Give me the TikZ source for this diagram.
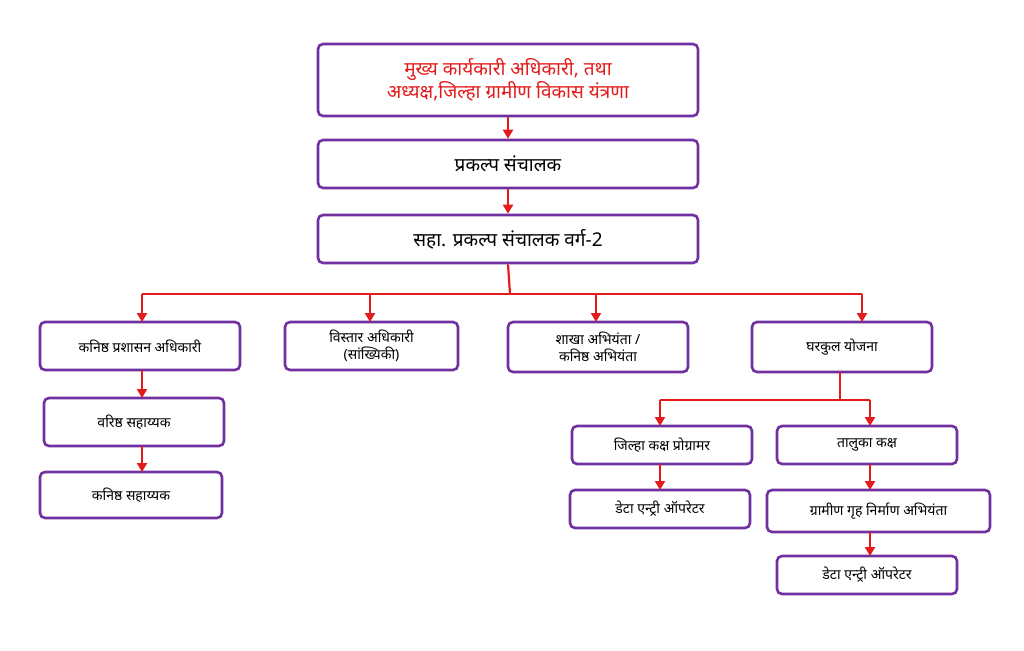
\documentclass[tikz,border=0pt]{standalone}
\usepackage{fontspec}
\newfontfamily\dev[Script=Devanagari]{Noto Sans}
\usetikzlibrary{arrows.meta}
\definecolor{pbord}{HTML}{7030A0}
\definecolor{rline}{HTML}{E31B1B}
\tikzset{
  box/.style={draw=pbord,line width=2.6pt,rounded corners=5pt,fill=white,align=center,font=\dev\bfseries\fontsize{14}{17}\selectfont,inner sep=0pt},
  big/.style={font=\dev\bfseries\fontsize{19}{23}\selectfont},
  con/.style={draw=rline,line width=2.2pt,-{Triangle[length=9pt,width=10pt]}},
  lin/.style={draw=rline,line width=2.2pt}
}
\newcommand{\bx}[6]{\node[box,#6,minimum width=#3-#1,minimum height=#4-#2] (#5) at ({(#1+#3)/2},{(#2+#4)/2})}
\begin{document}
\begin{tikzpicture}[x=1pt,y=-1pt]
\useasboundingbox (0,0) rectangle (1024,650);
\bx{318}{44}{698}{116}{a}{big}{\textcolor{rline}{मुख्य कार्यकारी अधिकारी, तथा}\\\textcolor{rline}{अध्यक्ष,जिल्हा ग्रामीण विकास यंत्रणा}};
\bx{318}{140}{698}{188}{b}{big}{प्रकल्प संचालक};
\bx{318}{215}{698}{263}{c}{big}{सहा. प्रकल्प संचालक वर्ग-2};
\bx{40}{322}{240}{370}{d}{}{कनिष्ठ प्रशासन अधिकारी};
\bx{285}{322}{458}{370}{e}{}{विस्तार अधिकारी\\(सांख्यिकी)};
\bx{508}{322}{688}{372}{f}{}{शाखा अभियंता /\\कनिष्ठ अभियंता};
\bx{752}{322}{932}{372}{g}{}{घरकुल योजना};
\bx{44}{398}{224}{446}{h}{}{वरिष्ठ सहाय्यक};
\bx{40}{472}{222}{518}{i}{}{कनिष्ठ सहाय्यक};
\bx{572}{426}{752}{464}{j}{}{जिल्हा कक्ष प्रोग्रामर};
\bx{777}{426}{957}{464}{k}{}{तालुका कक्ष};
\bx{570}{490}{750}{528}{l}{}{डेटा एन्ट्री ऑपरेटर};
\bx{767}{490}{990}{532}{m}{}{ग्रामीण गृह निर्माण अभियंता};
\bx{777}{556}{957}{594}{n}{}{डेटा एन्ट्री ऑपरेटर};
\draw[con] (a.south) -- (b.north);
\draw[con] (b.south) -- (c.north);
\coordinate (t) at (510,294);
\draw[lin] (c.south) -- (t);
\draw[lin] (142,294) -- (862,294);
\draw[con] (142,294) -- (142,322);
\draw[con] (370,294) -- (370,322);
\draw[con] (596,294) -- (596,322);
\draw[con] (862,294) -- (862,322);
\draw[con] (142,370) -- (142,398);
\draw[con] (142,446) -- (142,472);
\draw[lin] (840,372) -- (840,400);
\draw[lin] (660,400) -- (870,400);
\draw[con] (660,400) -- (660,426);
\draw[con] (870,400) -- (870,426);
\draw[con] (660,464) -- (660,490);
\draw[con] (870,464) -- (870,490);
\draw[con] (870,532) -- (870,556);
\end{tikzpicture}
\end{document}
